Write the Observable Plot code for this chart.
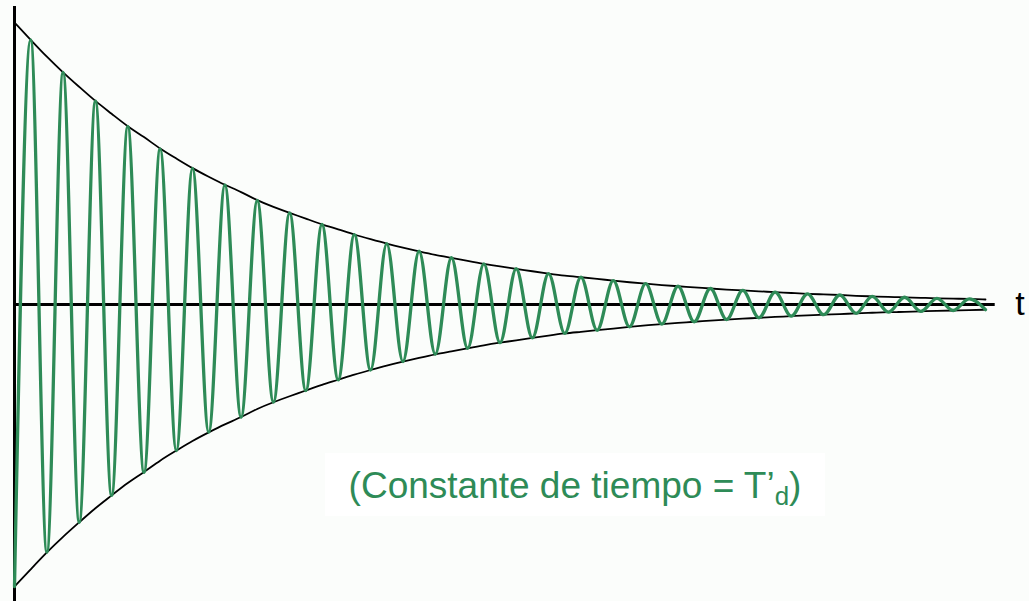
<!DOCTYPE html>
<html>
<head>
<meta charset="utf-8">
<script src="https://cdn.jsdelivr.net/npm/d3@7"></script>
<script src="https://cdn.jsdelivr.net/npm/@observablehq/plot@0.6"></script>
<style>
  html, body { margin: 0; padding: 0; background: #fbfdfb; }
  #wrap { position: relative; width: 1029px; height: 601px; overflow: hidden; }
  #note {
    position: absolute; left: 325px; top: 453px; width: 500px; height: 63px;
    background: #ffffff; color: #2e8b57;
    font-family: "Liberation Sans", Arial, Helvetica, sans-serif; font-size: 37px;
    line-height: 63px; text-align: center; white-space: nowrap;
    padding-top: 1px; box-sizing: border-box;
  }
  #note sub { font-size: 0.7em; vertical-align: -0.27em; line-height: 0; }
</style>
</head>
<body>
<div id="wrap"></div>
<script>
// Time of each extremum, in oscillation periods
const extremaTime = [
  0, 0.5, 1, 1.5, 2, 2.5, 3, 3.5, 4, 4.5,
  5, 5.5, 6, 6.5, 7, 7.5, 8, 8.5, 9, 9.5,
  10, 10.5, 11, 11.5, 12, 12.5, 13, 13.5, 14, 14.5,
  15, 15.5, 16, 16.5, 17, 17.5, 18, 18.5, 19, 19.5,
  20, 20.5, 21, 21.5, 22, 22.5, 23, 23.5, 24, 24.5,
  25, 25.5, 26, 26.5, 27, 27.5, 28, 28.5, 29, 29.5, 30
];
// Signed value of the damped oscillation at each extremum
const extremaValue = [
  -1.000, 0.939, -0.878, 0.823, -0.772, 0.721, -0.677, 0.631, -0.595, 0.552,
  -0.518, 0.483, -0.453, 0.424, -0.400, 0.369, -0.346, 0.325, -0.305, 0.284,
  -0.267, 0.248, -0.232, 0.216, -0.202, 0.189, -0.176, 0.166, -0.155, 0.144,
  -0.135, 0.127, -0.118, 0.110, -0.102, 0.097, -0.091, 0.085, -0.079, 0.074,
  -0.069, 0.065, -0.061, 0.057, -0.053, 0.050, -0.047, 0.044, -0.041, 0.038,
  -0.036, 0.034, -0.031, 0.029, -0.027, 0.026, -0.024, 0.022, -0.021, 0.020, -0.018
];
const axisLabel = "t";
const axisTimeEnd = 30.3;     // end of the time axis (periods)
const axisValueTop = 1.057;   // extent of the vertical axis
const axisValueBottom = -1.053;

const signal = extremaTime.map((t, i) => ({t, v: extremaValue[i]}));
const upper = extremaTime.map((t, i) => ({t, v: Math.abs(extremaValue[i])}));
const lower = extremaTime.map((t, i) => ({t, v: -Math.abs(extremaValue[i])}));

const chart = Plot.plot({
  width: 1029,
  height: 601,
  marginLeft: 14,
  marginRight: 44,
  marginTop: 6,
  marginBottom: 0,
  x: {domain: [0, 30], axis: null},
  y: {domain: [axisValueBottom, axisValueTop], axis: null},
  style: {background: "transparent", overflow: "visible"},
  marks: [
    Plot.ruleY([0], {x1: 0, x2: axisTimeEnd, stroke: "#000", strokeWidth: 3}),
    Plot.ruleX([0], {y1: axisValueBottom, y2: axisValueTop, stroke: "#000", strokeWidth: 3}),
    Plot.line(upper, {x: "t", y: "v", curve: "basis", stroke: "#000", strokeWidth: 1.8}),
    Plot.line(lower, {x: "t", y: "v", curve: "basis", stroke: "#000", strokeWidth: 1.8}),
    Plot.line(signal, {x: "t", y: "v", curve: "monotone-x", stroke: "#2e8b57", strokeWidth: 3.3}),
    Plot.text([axisLabel], {x: axisTimeEnd, y: 0, text: d => d, dx: 20, textAnchor: "start",
      fontSize: 34, fontFamily: "Liberation Sans, Arial, sans-serif", fill: "#000"})
  ]
});
const wrap = document.getElementById("wrap");
wrap.appendChild(chart);
const note = document.createElement("div");
note.id = "note";
note.innerHTML = "(Constante de tiempo = T’<sub>d</sub>)";
wrap.appendChild(note);
</script>
</body>
</html>
